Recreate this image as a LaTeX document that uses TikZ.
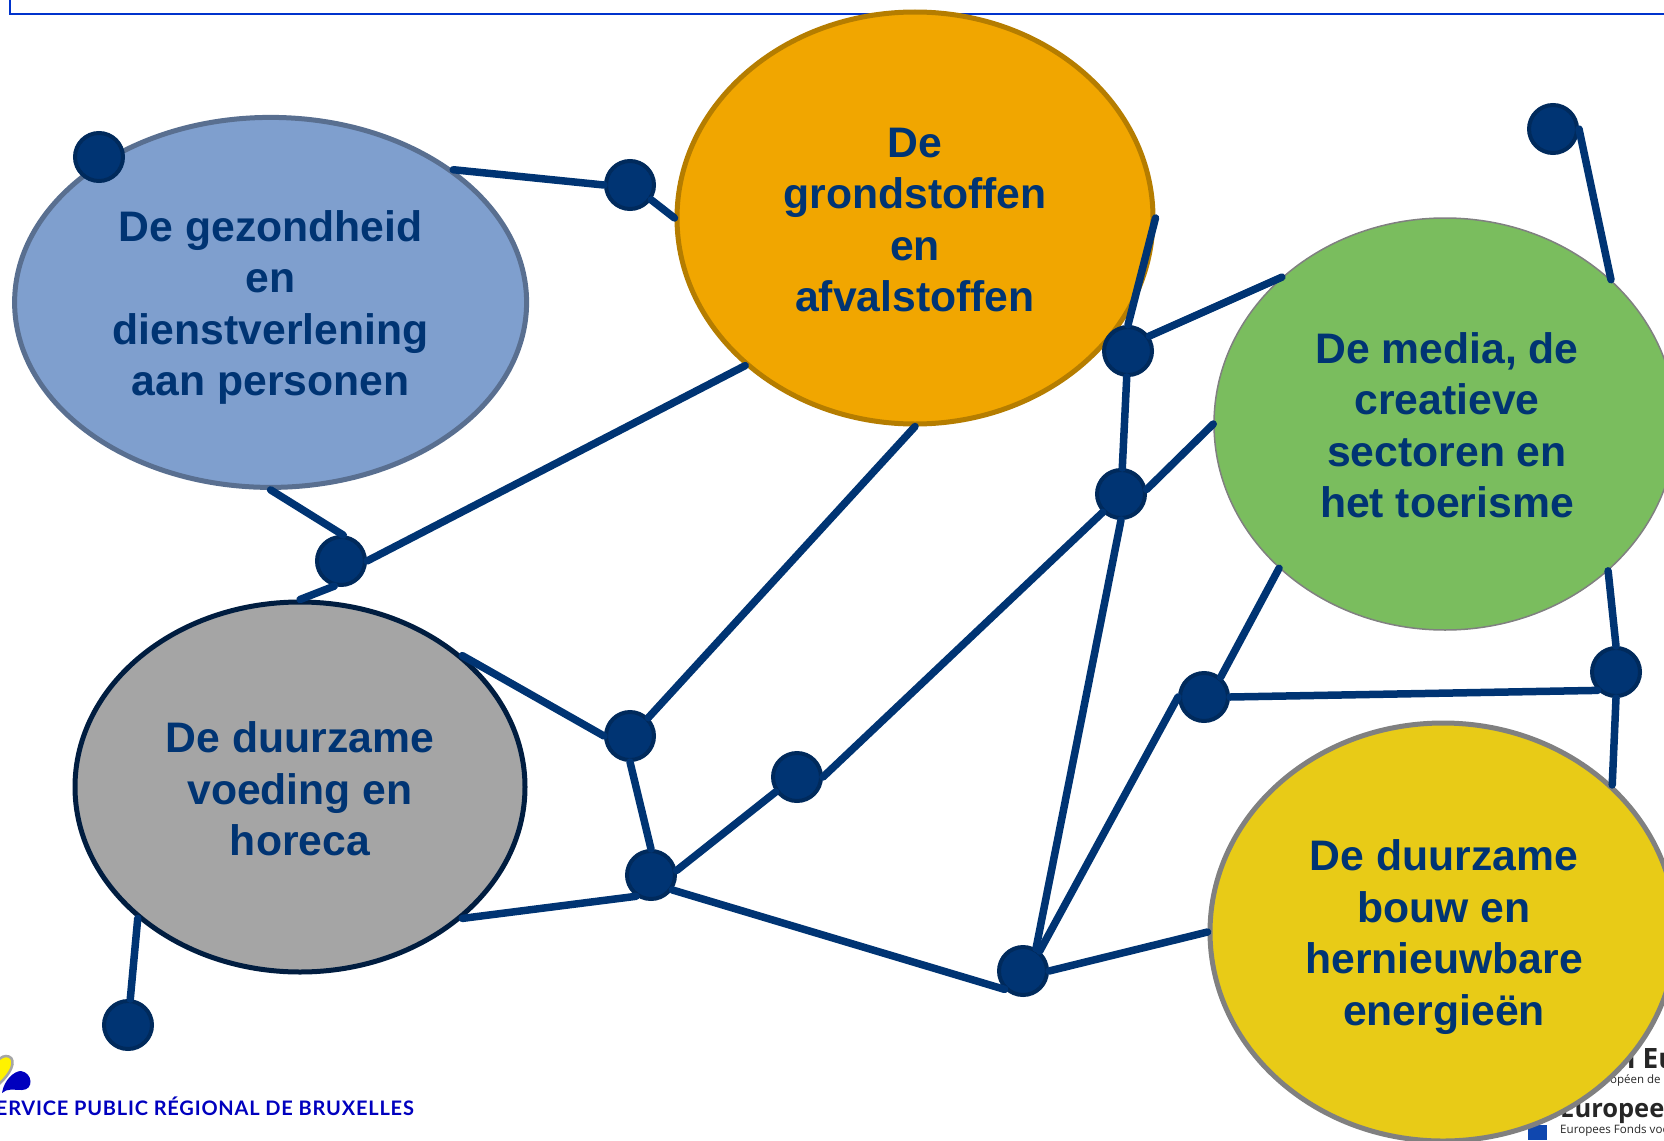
\documentclass[tikz,border=0pt]{standalone}
\usepackage{xcolor}
\usepackage{fontspec}
\setmainfont{Liberation Sans}
\newfontfamily\LogoFont[LetterSpace=4]{Lato}
\newfontfamily\FundFont{Open Sans}
\definecolor{ColEdge}{RGB}{0,52,115}
\definecolor{ColDot}{RGB}{0,42,92}
\definecolor{ColBand}{RGB}{0,51,204}
\definecolor{ColLogo}{RGB}{0,0,190}
\definecolor{ColFlag}{RGB}{15,71,175}
\definecolor{ColBlue}{RGB}{127,159,206}
\definecolor{ColOrange}{RGB}{241,166,0}
\definecolor{ColGreen}{RGB}{122,189,94}
\definecolor{ColGrey}{RGB}{165,165,165}
\definecolor{ColYellow}{RGB}{232,203,23}
\usetikzlibrary{shapes.geometric}
\tikzstyle{Blob}=[ellipse,inner sep=0pt,line width=5pt]
\tikzstyle{Label}=[inner sep=0pt,align=center,text=ColEdge,
font=\fontsize{42.7}{51.5}\selectfont\bfseries]
\tikzstyle{Dot}=[circle,draw=ColDot,fill=ColEdge,line width=4pt,inner sep=0pt,
minimum size=48pt]
\tikzstyle{Edge}=[draw=ColEdge,line cap=round,line width=7.5pt]
\tikzstyle{Fund}=[inner sep=0pt,anchor=base west,text=black!85]

\begin{document}
\begin{tikzpicture}[x=1pt,y=-1pt]
        \useasboundingbox(0,0)rectangle(1664,1140);
        \clip(0,0)rectangle(1664,1140);
        % band and logos
        \draw[ColBand,line width=2.5pt](10,-10)rectangle(1680,14);
        \fill[yellow,draw=black!35,line width=2.5pt](-12,1090)
            ..controls(-12,1070)and(-2,1056)..(6,1056)
            ..controls(15,1056)and(17,1068)..(-2,1085)--cycle;
        \fill[ColLogo](2,1093)
            ..controls(4,1080)and(14,1071)..(21,1071)
            ..controls(33,1073)and(34,1090)..(22,1090)
            ..controls(14,1090)and(7,1088)..(2,1093);
        \node[inner sep=0pt,anchor=base east,text=ColLogo,
            font=\fontsize{20}{20}\LogoFont\bfseries](service)at(414,1115)
            {SERVICE PUBLIC RÉGIONAL DE BRUXELLES};
        \fill[ColFlag](1528,1125)rectangle(1547,1140);
        \node[Fund,font=\fontsize{25.5}{25.5}\FundFont\bfseries](fundnl)at(1560,1117){Europees};
        \node[Fund,font=\fontsize{11.6}{11.6}\FundFont](fundsub)at(1560,1133){Europees Fonds voor};
        \node[Fund,font=\fontsize{28}{28}\FundFont\bfseries,anchor=base east](fundfr)at(1677,1068){n Eu};
        \node[Fund,font=\fontsize{11.5}{11.5}\FundFont](fundfrsub)at(1610,1083){opéen de l};
        % themes
        \node[Blob,draw=ColBlue!70!black,fill=ColBlue,minimum width=512pt,minimum height=370pt]
            (blue)at(270.6,302.4){};
        \node[Blob,draw=ColOrange!75!black,fill=ColOrange,minimum width=476pt,minimum height=412pt]
            (orange)at(915,218){};
        \node[Blob,draw=black!50,fill=ColGreen,line width=1.5pt,minimum width=462pt,minimum height=412pt]
            (green)at(1445,424){};
        \node[Blob,draw=ColDot!70!black,fill=ColGrey,minimum width=450pt,minimum height=370pt]
            (grey)at(300,787){};
        \node[Blob,draw=black!50,fill=ColYellow,minimum width=466pt,minimum height=418pt]
            (yellow)at(1443,932){};
        \node[Label](blueText)at([yshift=-5pt]blue.center){De gezondheid\\en\\dienstverlening\\aan personen};
        \node[Label](orangeText)at([yshift=-2pt]orange.center){De\\grondstoffen\\en\\afvalstoffen};
        \node[Label](greenText)at([xshift=2pt,yshift=-1pt]green.center){De media, de\\creatieve\\sectoren en\\het toerisme};
        \node[Label](greyText)at([yshift=-2pt]grey.center){De duurzame\\voeding en\\horeca};
        \node[Label](yellowText)at([xshift=1pt,yshift=-5pt]yellow.center){De duurzame\\bouw en\\hernieuwbare\\energieën};
        % hubs
        \node[Dot](a)at(99,157){};
        \node[Dot](b)at(630,185){};
        \node[Dot](c)at(1553,129){};
        \node[Dot](d)at(1128,351){};
        \node[Dot](e)at(1121,494){};
        \node[Dot](f)at(341,561){};
        \node[Dot](g)at(630,736){};
        \node[Dot](h)at(797,777){};
        \node[Dot](i)at(651,875){};
        \node[Dot](j)at(1023,971){};
        \node[Dot](k)at(1204,697){};
        \node[Dot](l)at(1616,672){};
        \node[Dot](m)at(128,1025){};
        % links
        \draw[Edge](blue.36)--(b.180);
        \draw[Edge](b.-35)--(orange.180);
        \draw[Edge](orange.0)--(d.90);
        \draw[Edge](d.35)--(green.138);
        \draw[Edge](d)--(e);
        \draw[Edge](e.10)--(green.180);
        \draw[Edge](h.0)--(e.225);
        \draw[Edge](e.270)--(j.60);
        \draw[Edge](c.0)--(green.41.5);
        \draw[Edge](f.85)--(blue.270);
        \draw[Edge](f.0)--(orange.221);
        \draw[Edge](f.255)--(grey.90);
        \draw[Edge](grey.39.8)--(g.180);
        \draw[Edge](orange.270)--(g.45);
        \draw[Edge](g.270)--(i.90);
        \draw[Edge](i.10)--(h.215);
        \draw[Edge](grey.-39.5)--(i.235);
        \draw[Edge](i.-35)--(j.225);
        \draw[Edge](j.0)--(yellow.180);
        \draw[Edge](j.50)--(k.180);
        \draw[Edge](k.50)--(green.221.7);
        \draw[Edge](k.0)--(l.225);
        \draw[Edge](l.90)--(green.318.5);
        \draw[Edge](l.270)--(yellow.41.7);
        \draw[Edge](grey.219.4)--(m.85);
\end{tikzpicture}
\end{document}
